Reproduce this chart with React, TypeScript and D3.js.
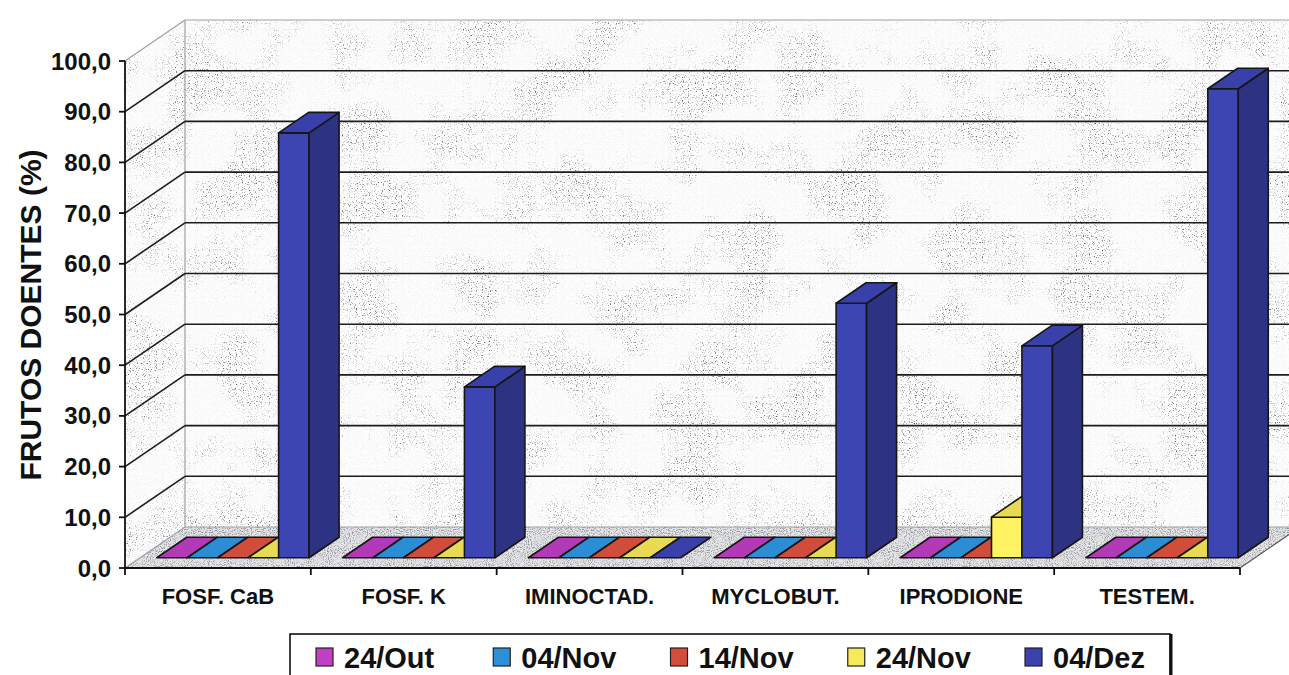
import React from "react";
import * as d3 from "d3";

// Categories (treatments) and series (sampling dates)
const categories = ["FOSF. CaB", "FOSF. K", "IMINOCTAD.", "MYCLOBUT.", "IPRODIONE", "TESTEM."];
const seriesNames = ["24/Out", "04/Nov", "14/Nov", "24/Nov", "04/Dez"];

// Diseased fruit (%) per treatment, one array per date
const out24 = [0, 0, 0, 0, 0, 0];
const nov04 = [0, 0, 0, 0, 0, 0];
const nov14 = [0, 0, 0, 0, 0, 0];
const nov24 = [0, 0, 0, 0, 8.0, 0];
const dez04 = [83.8, 33.7, 0, 50.2, 41.8, 92.5];

const yTicks = [0, 10, 20, 30, 40, 50, 60, 70, 80, 90, 100];

const seriesValues = [out24, nov04, nov14, nov24, dez04];

// face colours per series: front, side, top
const palette = [
  { front: "#c040c4", side: "#8e2a92", top: "#b33ab6", swatch: "#c23fc4" },
  { front: "#2f92d8", side: "#1f6aa2", top: "#2c8dd4", swatch: "#2d8fd6" },
  { front: "#d8503e", side: "#a0382b", top: "#d14c3a", swatch: "#d44d3c" },
  { front: "#fff263", side: "#d6c945", top: "#e8da52", swatch: "#f7ea5a" },
  { front: "#3d45b2", side: "#2e3282", top: "#3a40aa", swatch: "#3b42ad" },
];

const W = 1289;
const H = 675;

// plot frame (front plane)
const x0 = 125;
const x1 = 1240;
const DX = 60; // depth offset of the back wall
const DY = -41;

const xCat = d3.scaleBand<string>().domain(categories).range([x0, x1]).paddingInner(0).paddingOuter(0);
const xSer = d3
  .scaleBand<string>()
  .domain(seriesNames)
  .range([0, xCat.bandwidth()])
  .paddingInner(0)
  .paddingOuter(0.55);
const y = d3.scaleLinear().domain([0, 100]).range([568, 61]);

// bars occupy the middle of the floor depth
const depthFront = 0.25;
const depthBack = 0.75;

const fmt = (v: number) => d3.format(".1f")(v).replace(".", ",");
const pts = (p: [number, number][]) => p.map((q) => q.join(",")).join(" ");

const FONT = "Arial, 'Liberation Sans', Helvetica, sans-serif";

export default function App() {
  const yBottom = y(0);
  const yTop = y(100);

  const sideWall: [number, number][] = [
    [x0, yTop],
    [x0 + DX, yTop + DY],
    [x0 + DX, yBottom + DY],
    [x0, yBottom],
  ];
  const backWall: [number, number][] = [
    [x0 + DX, yTop + DY],
    [x1 + DX + 20, yTop + DY],
    [x1 + DX + 20, yBottom + DY],
    [x0 + DX, yBottom + DY],
  ];
  const floor: [number, number][] = [
    [x0, yBottom],
    [x1, yBottom],
    [x1 + DX, yBottom + DY],
    [x0 + DX, yBottom + DY],
  ];

  const fdx = DX * depthFront;
  const fdy = DY * depthFront;
  const sdx = DX * (depthBack - depthFront);
  const sdy = DY * (depthBack - depthFront);

  const bars: React.ReactNode[] = [];
  categories.forEach((c, ci) => {
    seriesNames.forEach((s, si) => {
      const v = seriesValues[si][ci];
      const bx = (xCat(c) as number) + (xSer(s) as number) + fdx;
      const bw = xSer.bandwidth();
      const yb = y(0) + fdy;
      const yt = y(v) + fdy;
      const col = palette[si];
      const front: [number, number][] = [
        [bx, yb],
        [bx, yt],
        [bx + bw, yt],
        [bx + bw, yb],
      ];
      const side: [number, number][] = [
        [bx + bw, yb],
        [bx + bw, yt],
        [bx + bw + sdx, yt + sdy],
        [bx + bw + sdx, yb + sdy],
      ];
      const top: [number, number][] = [
        [bx, yt],
        [bx + sdx, yt + sdy],
        [bx + bw + sdx, yt + sdy],
        [bx + bw, yt],
      ];
      bars.push(
        <g key={`${ci}-${si}`} stroke="#161616" strokeWidth={1.6} strokeLinejoin="round">
          {v > 0 && <polygon points={pts(front)} fill={col.front} />}
          {v > 0 && <polygon points={pts(side)} fill={col.side} />}
          <polygon points={pts(top)} fill={col.top} />
        </g>
      );
    });
  });

  const legendX = d3.scalePoint<string>().domain(seriesNames).range([316, 1025]);

  return (
    <svg
      width={W}
      height={H}
      viewBox={`0 0 ${W} ${H}`}
      style={{ position: "absolute", left: 0, top: 0, display: "block", background: "#ffffff" }}
    >
      <defs>
        <filter id="wallTex" x="0" y="0" width={W} height={H} filterUnits="userSpaceOnUse" colorInterpolationFilters="sRGB">
          <feTurbulence type="fractalNoise" baseFrequency="0.85" numOctaves="1" seed="7" result="fine" />
          <feTurbulence type="fractalNoise" baseFrequency="0.018" numOctaves="4" seed="3" result="coarse" />
          <feColorMatrix
            in="fine"
            type="matrix"
            values="0 0 0 0 0.58  0 0 0 0 0.62  0 0 0 0 0.72  5 0 0 0 -2.85"
            result="dots"
          />
          <feColorMatrix
            in="coarse"
            type="matrix"
            values="0 0 0 0 0  0 0 0 0 0  0 0 0 0 0  4 0 0 0 -1.7"
            result="mask"
          />
          <feComposite in="dots" in2="mask" operator="arithmetic" k1="0.55" k2="0.18" k3="0" k4="0" result="speck" />
          <feMerge>
            <feMergeNode in="SourceGraphic" />
            <feMergeNode in="speck" />
          </feMerge>
        </filter>
        <filter id="floorTex" x="0" y="0" width={W} height={H} filterUnits="userSpaceOnUse" colorInterpolationFilters="sRGB">
          <feTurbulence type="fractalNoise" baseFrequency="0.95" numOctaves="1" seed="11" result="fine" />
          <feColorMatrix
            in="fine"
            type="matrix"
            values="0 0 0 0 0.55  0 0 0 0 0.57  0 0 0 0 0.62  4 0 0 0 -1.9"
            result="dots"
          />
          <feMerge>
            <feMergeNode in="SourceGraphic" />
            <feMergeNode in="dots" />
          </feMerge>
        </filter>
        <clipPath id="wallClip">
          <polygon points={pts(sideWall)} />
          <polygon points={pts(backWall)} />
        </clipPath>
        <clipPath id="floorClip">
          <polygon points={pts(floor)} />
        </clipPath>
      </defs>

      {/* walls */}
      <g clipPath="url(#wallClip)">
        <rect x={0} y={0} width={W} height={H} fill="#fcfcfc" filter="url(#wallTex)" />
      </g>
      {/* floor */}
      <g clipPath="url(#floorClip)">
        <rect x={0} y={0} width={W} height={H} fill="#e6e6e6" filter="url(#floorTex)" />
      </g>

      {/* wall edges */}
      <g fill="none" stroke="#a0a0a0" strokeWidth={1.2}>
        <line x1={x0} y1={yTop} x2={x0 + DX} y2={yTop + DY} />
        <line x1={x0 + DX} y1={yTop + DY} x2={W + 20} y2={yTop + DY} />
        <line x1={x0 + DX} y1={yTop + DY} x2={x0 + DX} y2={yBottom + DY} />
        <line x1={x0 + DX} y1={yBottom + DY} x2={W + 20} y2={yBottom + DY} />
        <line x1={x0} y1={yBottom} x2={x0 + DX} y2={yBottom + DY} />
        <line x1={x1} y1={yBottom} x2={x1 + DX} y2={yBottom + DY} stroke="#555" />
      </g>

      {/* gridlines */}
      <g fill="none" stroke="#1c1c1c" strokeWidth={1.6}>
        {yTicks
          .filter((t) => t > 0 && t < 100)
          .map((t) => (
            <g key={t}>
              <line x1={x0} y1={y(t)} x2={x0 + DX} y2={y(t) + DY} />
              <line x1={x0 + DX} y1={y(t) + DY} x2={W + 20} y2={y(t) + DY} />
            </g>
          ))}
      </g>

      {/* bars */}
      {bars}

      {/* y axis */}
      <g stroke="#111" strokeWidth={1.8}>
        <line x1={x0} y1={yTop} x2={x0} y2={yBottom} />
        {yTicks.map((t) => (
          <line key={t} x1={x0 - 6} y1={y(t)} x2={x0} y2={y(t)} />
        ))}
      </g>
      <g fontFamily={FONT} fontWeight="bold" fontSize={24} fill="#111" textAnchor="end">
        {yTicks.map((t) => (
          <text key={t} x={111} y={y(t) + 8.5}>
            {fmt(t)}
          </text>
        ))}
      </g>
      <text
        transform={`translate(41, 315) rotate(-90)`}
        textAnchor="middle"
        fontFamily={FONT}
        fontWeight="bold"
        fontSize={30}
        fill="#111"
      >
        FRUTOS DOENTES (%)
      </text>

      {/* x axis */}
      <g stroke="#111" strokeWidth={1.8}>
        <line x1={x0} y1={yBottom} x2={x1} y2={yBottom} />
        {[...categories.map((c) => xCat(c) as number), x1].map((xv, i) => (
          <line key={i} x1={xv} y1={yBottom} x2={xv} y2={yBottom + 7} />
        ))}
      </g>
      <g fontFamily={FONT} fontWeight="bold" fontSize={22} fill="#111" textAnchor="middle">
        {categories.map((c) => (
          <text key={c} x={(xCat(c) as number) + xCat.bandwidth() / 2} y={604}>
            {c}
          </text>
        ))}
      </g>

      {/* legend */}
      <rect x={290} y={634} width={880} height={70} fill="#ffffff" stroke="#111" strokeWidth={1.6} />
      <line x1={1171} y1={634} x2={1171} y2={H} stroke="#111" strokeWidth={3} />
      {seriesNames.map((s, i) => {
        const lx = legendX(s) as number;
        return (
          <g key={s}>
            <rect x={lx} y={648} width={17} height={18} fill={palette[i].swatch} stroke="#222" strokeWidth={1.2} />
            <text x={lx + 28} y={668} fontFamily={FONT} fontWeight="bold" fontSize={29} fill="#111">
              {s}
            </text>
          </g>
        );
      })}
    </svg>
  );
}
